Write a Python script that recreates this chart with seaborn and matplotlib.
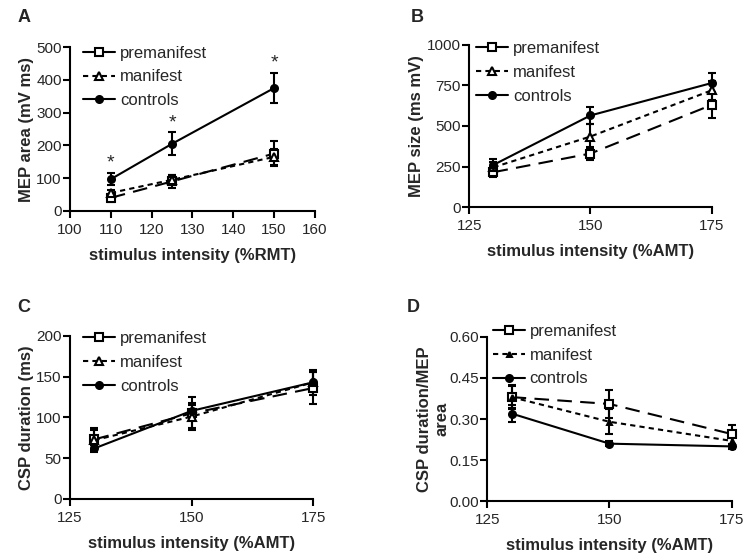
import matplotlib.pyplot as plt
import seaborn as sns
import pandas as pd
from matplotlib.lines import Line2D
from matplotlib.ticker import FormatStrFormatter

sns.set_style("ticks")
plt.rcParams['font.family'] = ['Liberation Sans', 'DejaVu Sans']

groups = ["premanifest", "manifest", "controls"]

# panel A - MEP area vs %RMT
a_x = [110, 125, 150]
a_pre = [40, 90, 175]
a_pre_err = [12, 20, 37]
a_man = [55, 95, 165]
a_man_err = [10, 15, 25]
a_con = [97, 205, 375]
a_con_err = [19, 35, 47]

# panel B - MEP size vs %AMT
b_x = [130, 150, 175]
b_pre = [215, 330, 630]
b_pre_err = [30, 40, 80]
b_man = [245, 435, 720]
b_man_err = [30, 75, 60]
b_con = [260, 565, 765]
b_con_err = [35, 55, 60]

# panel C - CSP duration
c_x = [130, 150, 175]
c_pre = [73, 105, 136]
c_pre_err = [14, 20, 20]
c_man = [72, 101, 143]
c_man_err = [12, 14, 15]
c_con = [62, 108, 143]
c_con_err = [4, 10, 12]

# panel D - CSP duration / MEP area
d_x = [130, 150, 175]
d_pre = [0.38, 0.355, 0.245]
d_pre_err = [0.045, 0.05, 0.035]
d_man = [0.38, 0.29, 0.22]
d_man_err = [0.04, 0.045, 0.02]
d_con = [0.32, 0.21, 0.20]
d_con_err = [0.03, 0.01, 0.01]

styles = {
    "premanifest": dict(marker="s", ms=6, mfc="white", ls=(0, (7, 4))),
    "manifest": dict(marker="^", ms=5.5, mfc="white", ls=(0, (2.5, 2))),
    "controls": dict(marker="o", ms=5, mfc="black", ls="-"),
}


def draw_panel(ax, x, series, errs, xlim, xticks, ylim, yticks, xlabel, ylabel,
               small_tri=False, ylabelpad=2):
    for g, y, e in zip(groups, series, errs):
        st = styles[g]
        mfc = st["mfc"]
        ms = st["ms"]
        if small_tri and g == "manifest":
            mfc, ms = "black", 3.5
        ax.errorbar(x, y, yerr=e, fmt="none", ecolor="black", elinewidth=1.5,
                    capsize=3, capthick=1.5, zorder=2, clip_on=False)
        df = pd.DataFrame({"x": x, "y": y})
        sns.lineplot(data=df, x="x", y="y", ax=ax, color="black", lw=1.5,
                     linestyle=st["ls"], marker=st["marker"], ms=ms,
                     markerfacecolor=mfc, markeredgecolor="black",
                     markeredgewidth=1.5, zorder=3, clip_on=False)
    ax.set_xlim(*xlim)
    ax.set_ylim(*ylim)
    ax.set_xticks(xticks)
    ax.set_yticks(yticks)
    ax.set_xlabel(xlabel, fontsize=12, fontweight="bold", labelpad=8)
    ax.set_ylabel(ylabel, fontsize=12, fontweight="bold", labelpad=ylabelpad)
    ax.tick_params(labelsize=11, width=1.5, length=5, color="black")
    ax.tick_params(axis="y", pad=1)
    for s in ["left", "bottom"]:
        ax.spines[s].set_linewidth(1.5)
        ax.spines[s].set_color("black")
    sns.despine(ax=ax)

    handles = [
        Line2D([], [], color="black", lw=1.5, ls="-", marker="s", ms=6,
               mfc="white", mec="black", mew=1.5),
        Line2D([], [], color="black", lw=1.5, ls=(0, (2.5, 2)), marker="^",
               ms=3.5 if small_tri else 5.5, mfc="black" if small_tri else "white",
               mec="black", mew=1.5),
        Line2D([], [], color="black", lw=1.5, ls="-", marker="o", ms=5,
               mfc="black", mec="black", mew=1.5),
    ]
    return handles


fig = plt.figure(figsize=(7.46, 5.55), dpi=100)
axA = fig.add_axes([0.094, 0.620, 0.328, 0.295])
axB = fig.add_axes([0.629, 0.627, 0.325, 0.292])
axC = fig.add_axes([0.094, 0.101, 0.326, 0.294])
axD = fig.add_axes([0.653, 0.097, 0.328, 0.296])

hA = draw_panel(axA, a_x, [a_pre, a_man, a_con], [a_pre_err, a_man_err, a_con_err],
                (100, 160), range(100, 161, 10), (0, 500), range(0, 501, 100),
                "stimulus intensity (%RMT)", "MEP area (mV ms)")
hB = draw_panel(axB, b_x, [b_pre, b_man, b_con], [b_pre_err, b_man_err, b_con_err],
                (125, 175), [125, 150, 175], (0, 1000), range(0, 1001, 250),
                "stimulus intensity (%AMT)", "MEP size (ms mV)")
hC = draw_panel(axC, c_x, [c_pre, c_man, c_con], [c_pre_err, c_man_err, c_con_err],
                (125, 175), [125, 150, 175], (0, 200), range(0, 201, 50),
                "stimulus intensity (%AMT)", "CSP duration (ms)")
hD = draw_panel(axD, d_x, [d_pre, d_man, d_con], [d_pre_err, d_man_err, d_con_err],
                (125, 175), [125, 150, 175], (0, 0.6), [0, 0.15, 0.30, 0.45, 0.60],
                "stimulus intensity (%AMT)", "CSP duration/MEP\narea", small_tri=True,
                ylabelpad=0)
axD.yaxis.set_major_formatter(FormatStrFormatter("%.2f"))

# significance stars above controls in A
for xi, yi, ei in zip(a_x, a_con, a_con_err):
    axA.text(xi, yi + ei + 3, "*", ha="center", va="bottom", fontsize=14)

for ax, h, anchor in [(axA, hA, (0.04, 1.03)), (axB, hB, (0.015, 1.045)),
                      (axC, hC, (0.04, 1.05)), (axD, hD, (0.01, 1.10))]:
    ax.legend(h, groups, loc="upper left", bbox_to_anchor=anchor, frameon=False,
              fontsize=12, handlelength=1.9, handletextpad=0.3, labelspacing=0.53,
              borderpad=0.2, borderaxespad=0)

for letter, px, py in [("A", 24, 17), ("B", 417, 18), ("C", 24, 308), ("D", 413, 308)]:
    fig.text(px / 746, 1 - py / 555, letter, ha="center", va="center",
             fontsize=13, fontweight="bold")

fig.savefig("out.png", dpi=100)
